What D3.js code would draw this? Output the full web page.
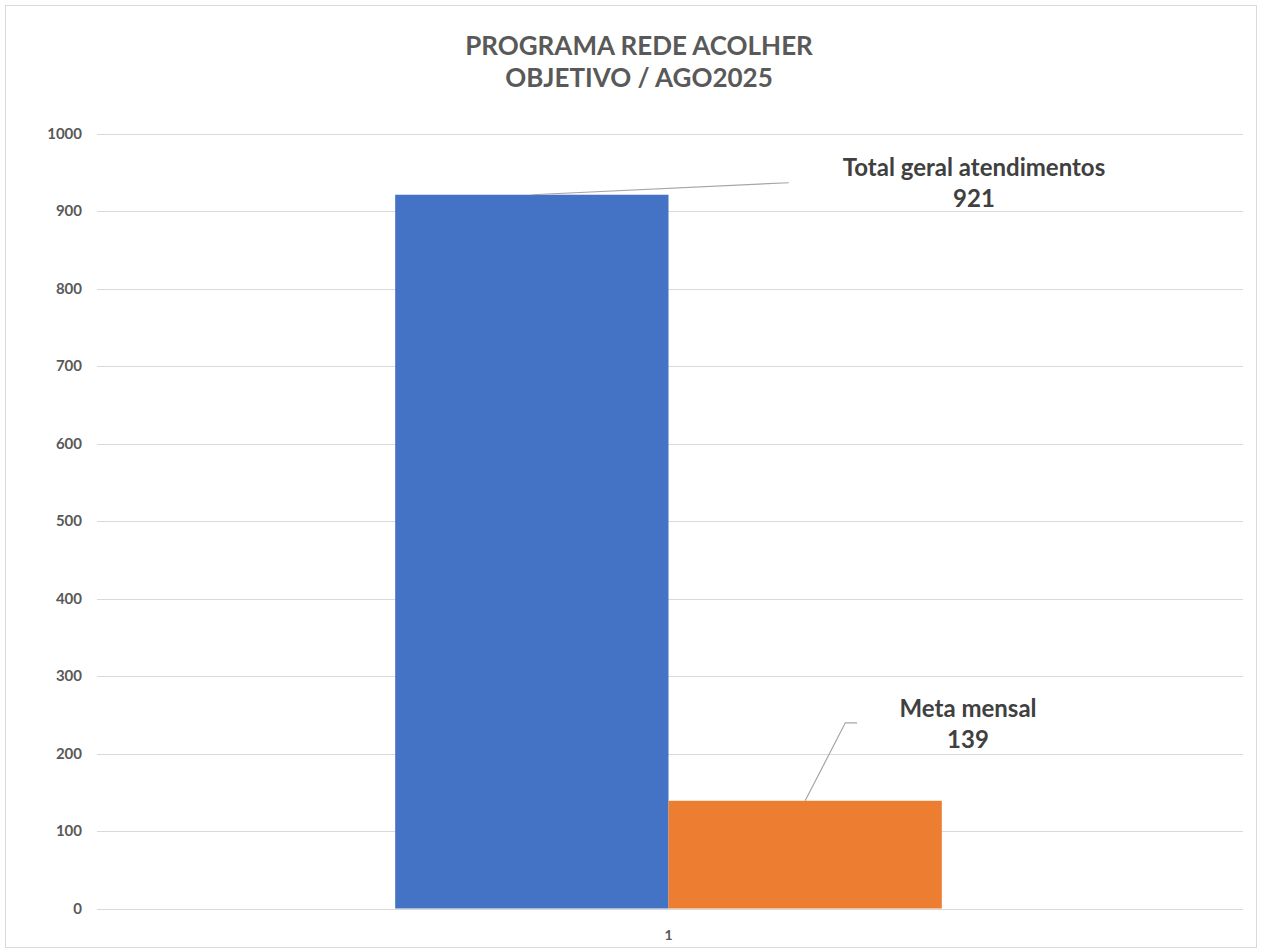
<!DOCTYPE html>
<html><head><meta charset="utf-8">
<script src="https://cdn.jsdelivr.net/npm/d3@7"></script>
<style>body{margin:0;background:#fff;} svg{display:block;}</style>
</head><body>
<svg id="c" width="1261" height="951"></svg>
<script>
const categories = ["1"];
const seriesNames = ["Total geral atendimentos", "Meta mensal"];
const seriesValues = [921, 139];
const seriesColors = ["#4472C4", "#ED7D31"];
const yTicks = [0, 100, 200, 300, 400, 500, 600, 700, 800, 900, 1000];
const titleLines = ["PROGRAMA REDE ACOLHER", "OBJETIVO / AGO2025"];

const svg = d3.select("#c");
const font = "Lato, 'Open Sans', sans-serif";
const textCol = "#595959";

svg.append("rect").attr("x", 5.5).attr("y", 5.5).attr("width", 1251).attr("height", 942)
  .attr("fill", "#fff").attr("stroke", "#d9d9d9").attr("stroke-width", 1);

const m = {left: 97, right: 1243, top: 133.5, bottom: 908.5};
const y = d3.scaleLinear().domain([0, 1000]).range([m.bottom, m.top]);
const x0 = d3.scaleBand().domain(categories).range([m.left - 3, m.right]).paddingInner(0).paddingOuter(0.551);
const x1 = d3.scaleBand().domain(seriesNames).range([0, x0.bandwidth()]).padding(0);

// gridlines
svg.append("g").selectAll("line").data(yTicks).join("line")
  .attr("x1", m.left).attr("x2", m.right)
  .attr("y1", d => Math.round(y(d)) + 0.5).attr("y2", d => Math.round(y(d)) + 0.5)
  .attr("stroke", "#d9d9d9").attr("stroke-width", 1);

// y axis labels
const yAxis = d3.axisLeft(y).tickValues(yTicks).tickFormat(d3.format("d")).tickSize(0).tickPadding(0);
const gy = svg.append("g").attr("transform", `translate(82,0)`).call(yAxis);
gy.select(".domain").remove();
gy.selectAll("text").attr("font-family", font).attr("font-size", 15).attr("font-weight", "bold").attr("fill", textCol);

// x axis labels
const xAxis = d3.axisBottom(x0).tickSize(0).tickPadding(0);
const gx = svg.append("g").attr("transform", `translate(0,${m.bottom + 22})`).call(xAxis);
gx.select(".domain").remove();
gx.selectAll("text").attr("font-family", font).attr("font-size", 14).attr("font-weight", "bold").attr("fill", textCol);

// bars
const cat = categories[0];
const bars = seriesNames.map((s, i) => ({name: s, value: seriesValues[i], color: seriesColors[i]}));
svg.append("g").selectAll("rect").data(bars).join("rect")
  .attr("x", d => x0(cat) + x1(d.name))
  .attr("y", d => y(d.value))
  .attr("width", x1.bandwidth())
  .attr("height", d => y(0) - y(d.value))
  .attr("fill", d => d.color);

// data labels with leader lines
const bx = d => x0(cat) + x1(d.name);
const bw = x1.bandwidth();
// blue label
const b0 = bars[0];
svg.append("path")
  .attr("d", `M${bx(b0) + bw * 0.5},${y(b0.value)} L${bx(b0) + bw * 1.44},${y(b0.value) - 12}`)
  .attr("stroke", "#a6a6a6").attr("fill", "none").attr("stroke-width", 1.2);
const l0 = svg.append("text").attr("x", 974).attr("y", y(b0.value) - 19)
  .attr("text-anchor", "middle").attr("font-family", font).attr("font-size", 24)
  .attr("font-weight", "bold").attr("fill", "#404040");
l0.append("tspan").attr("x", 974).text(b0.name);
l0.append("tspan").attr("x", 974).attr("dy", 31).text(b0.value);

// orange label
const b1 = bars[1];
svg.append("path")
  .attr("d", `M${bx(b1) + bw * 0.5},${y(b1.value)} L${bx(b1) + bw * 0.647},${y(b1.value) - 78} L${bx(b1) + bw * 0.69},${y(b1.value) - 78}`)
  .attr("stroke", "#a6a6a6").attr("fill", "none").attr("stroke-width", 1.2);
const l1 = svg.append("text").attr("x", 968).attr("y", y(b1.value) - 84)
  .attr("text-anchor", "middle").attr("font-family", font).attr("font-size", 24)
  .attr("font-weight", "bold").attr("fill", "#404040");
l1.append("tspan").attr("x", 968).text(b1.name);
l1.append("tspan").attr("x", 968).attr("dy", 31).text(b1.value);

// title
const t = svg.append("text").attr("text-anchor", "middle").attr("font-family", font)
  .attr("font-size", 26).attr("font-weight", "bold").attr("fill", textCol);
titleLines.forEach((s, i) => t.append("tspan").attr("x", 639).attr("y", 55 + i * 32).text(s));
</script>
</body></html>
